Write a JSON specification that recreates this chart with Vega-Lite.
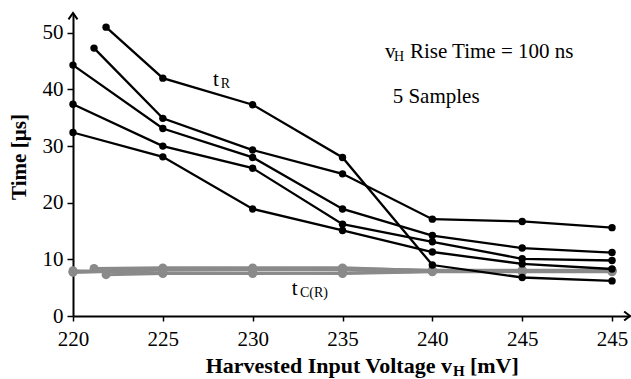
{
  "$schema": "https://vega.github.io/schema/vega-lite/v6.json",
  "width": 557,
  "height": 303,
  "autosize": {"type": "none"},
  "padding": {"left": 73, "top": 13, "right": 1, "bottom": 63},
  "background": "white",
  "config": {"view": {"stroke": null}, "font": "Liberation Serif"},
  "datasets": {
    "tR": [
      {"sample": "A", "x": 221.84, "y": 51.0},
      {"sample": "A", "x": 225, "y": 42.0},
      {"sample": "A", "x": 230, "y": 37.3},
      {"sample": "A", "x": 235, "y": 28.0},
      {"sample": "A", "x": 240, "y": 9.0},
      {"sample": "A", "x": 245, "y": 6.8},
      {"sample": "A", "x": 250, "y": 6.2},
      {"sample": "B", "x": 221.17, "y": 47.3},
      {"sample": "B", "x": 225, "y": 34.9},
      {"sample": "B", "x": 230, "y": 29.3},
      {"sample": "B", "x": 235, "y": 25.1},
      {"sample": "B", "x": 240, "y": 17.1},
      {"sample": "B", "x": 245, "y": 16.7},
      {"sample": "B", "x": 250, "y": 15.6},
      {"sample": "C", "x": 220, "y": 44.3},
      {"sample": "C", "x": 225, "y": 33.1},
      {"sample": "C", "x": 230, "y": 28.0},
      {"sample": "C", "x": 235, "y": 18.9},
      {"sample": "C", "x": 240, "y": 14.2},
      {"sample": "C", "x": 245, "y": 12.0},
      {"sample": "C", "x": 250, "y": 11.2},
      {"sample": "D", "x": 220, "y": 37.4},
      {"sample": "D", "x": 225, "y": 30.0},
      {"sample": "D", "x": 230, "y": 26.1},
      {"sample": "D", "x": 235, "y": 16.2},
      {"sample": "D", "x": 240, "y": 13.1},
      {"sample": "D", "x": 245, "y": 10.1},
      {"sample": "D", "x": 250, "y": 9.8},
      {"sample": "E", "x": 220, "y": 32.4},
      {"sample": "E", "x": 225, "y": 28.1},
      {"sample": "E", "x": 230, "y": 18.9},
      {"sample": "E", "x": 235, "y": 15.1},
      {"sample": "E", "x": 240, "y": 11.3},
      {"sample": "E", "x": 245, "y": 9.2},
      {"sample": "E", "x": 250, "y": 8.3}
    ],
    "tC": [
      {"sample": "A", "x": 221.84, "y": 7.3},
      {"sample": "A", "x": 225, "y": 7.5},
      {"sample": "A", "x": 230, "y": 7.5},
      {"sample": "A", "x": 235, "y": 7.6},
      {"sample": "A", "x": 240, "y": 7.9},
      {"sample": "A", "x": 245, "y": 7.9},
      {"sample": "A", "x": 250, "y": 7.9},
      {"sample": "B", "x": 221.17, "y": 8.4},
      {"sample": "B", "x": 225, "y": 8.5},
      {"sample": "B", "x": 230, "y": 8.5},
      {"sample": "B", "x": 235, "y": 8.5},
      {"sample": "B", "x": 240, "y": 8.0},
      {"sample": "B", "x": 245, "y": 8.0},
      {"sample": "B", "x": 250, "y": 8.0},
      {"sample": "C", "x": 220, "y": 7.8},
      {"sample": "C", "x": 225, "y": 8.3},
      {"sample": "C", "x": 230, "y": 8.4},
      {"sample": "C", "x": 235, "y": 8.4},
      {"sample": "C", "x": 240, "y": 8.1},
      {"sample": "C", "x": 245, "y": 8.1},
      {"sample": "C", "x": 250, "y": 8.1},
      {"sample": "D", "x": 220, "y": 8.0},
      {"sample": "D", "x": 225, "y": 7.6},
      {"sample": "D", "x": 230, "y": 7.6},
      {"sample": "D", "x": 235, "y": 7.5},
      {"sample": "D", "x": 240, "y": 7.8},
      {"sample": "D", "x": 245, "y": 7.8},
      {"sample": "D", "x": 250, "y": 7.8},
      {"sample": "E", "x": 220, "y": 7.7},
      {"sample": "E", "x": 225, "y": 8.1},
      {"sample": "E", "x": 230, "y": 8.2},
      {"sample": "E", "x": 235, "y": 8.2},
      {"sample": "E", "x": 240, "y": 8.0},
      {"sample": "E", "x": 245, "y": 8.0},
      {"sample": "E", "x": 250, "y": 8.0}
    ],
    "notes": [
      {"text": "t", "x": 227.79, "y": 40.6},
      {"text": "t", "x": 232.17, "y": 3.71},
      {"text": "v", "x": 237.36, "y": 45.5},
      {"text": "Rise Time = 100 ns", "x": 238.75, "y": 45.5},
      {"text": "5 Samples", "x": 237.79, "y": 37.55}
    ],
    "subs": [
      {"text": "R", "x": 228.22, "y": 40.2},
      {"text": "C(R)", "x": 232.63, "y": 3.35},
      {"text": "H", "x": 237.86, "y": 45.0}
    ],
    "xtitle": [{"text": "Harvested Input Voltage v", "x": 241.09, "y": -10.0}],
    "xtitlesub": [{"text": "H", "x": 241.15, "y": -10.6}],
    "xtitletail": [{"text": "[mV]", "x": 242.09, "y": -10.0}],
    "xarrow": [{"x": 251, "y": 0}],
    "yarrow": [{"x": 220, "y": 53.5}]
  },
  "encoding": {
    "x": {
      "field": "x",
      "type": "quantitative",
      "scale": {"domain": [220, 251], "nice": false, "zero": false},
      "axis": {
        "values": [220, 225, 230, 235, 240, 245, 250],
        "labelExpr": "datum.value == 250 ? '245' : datum.label",
        "title": null,
        "grid": false,
        "domainColor": "black",
        "domainWidth": 2,
        "tickColor": "black",
        "tickWidth": 1.5,
        "tickSize": 5,
        "labelFont": "Liberation Serif",
        "labelFontSize": 21,
        "labelColor": "black",
        "labelPadding": 7,
        "labelFlush": false,
        "labelOverlap": false
      }
    },
    "y": {
      "field": "y",
      "type": "quantitative",
      "scale": {"domain": [0, 53.5], "nice": false},
      "axis": {
        "values": [0, 10, 20, 30, 40, 50],
        "title": "Time [µs]",
        "titleFont": "Liberation Serif",
        "titleFontSize": 21,
        "titleFontWeight": "bold",
        "titleColor": "black",
        "titlePadding": 13,
        "titleY": 143.5,
        "grid": false,
        "domainColor": "black",
        "domainWidth": 2,
        "tickColor": "black",
        "tickWidth": 1.5,
        "tickSize": 6,
        "labelFont": "Liberation Serif",
        "labelFontSize": 21,
        "labelColor": "black",
        "labelPadding": 4,
        "labelOverlap": false
      }
    }
  },
  "layer": [
    {
      "data": {"name": "tC"},
      "mark": {"type": "line", "color": "#8a8a8a", "strokeWidth": 3},
      "encoding": {"detail": {"field": "sample", "type": "nominal"}}
    },
    {
      "data": {"name": "tC"},
      "mark": {"type": "point", "filled": true, "color": "#8a8a8a", "size": 80, "opacity": 1},
      "encoding": {"detail": {"field": "sample", "type": "nominal"}}
    },
    {
      "data": {"name": "tR"},
      "mark": {"type": "line", "color": "black", "strokeWidth": 2.3},
      "encoding": {"detail": {"field": "sample", "type": "nominal"}}
    },
    {
      "data": {"name": "tR"},
      "mark": {"type": "point", "filled": true, "color": "black", "size": 55, "opacity": 1},
      "encoding": {"detail": {"field": "sample", "type": "nominal"}}
    },
    {
      "data": {"name": "xarrow"},
      "mark": {"type": "point", "shape": "M-1.3,-1L0,0L-1.3,1", "filled": false, "stroke": "black", "strokeWidth": 2, "size": 81, "opacity": 1},
      "encoding": {}
    },
    {
      "data": {"name": "yarrow"},
      "mark": {"type": "point", "shape": "M-1,1.4L0,0L1,1.4", "filled": false, "stroke": "black", "strokeWidth": 2, "size": 81, "opacity": 1},
      "encoding": {}
    },
    {
      "data": {"name": "notes"},
      "mark": {"type": "text", "align": "left", "baseline": "alphabetic", "font": "Liberation Serif", "fontSize": 21, "color": "black"},
      "encoding": {"text": {"field": "text"}}
    },
    {
      "data": {"name": "subs"},
      "mark": {"type": "text", "align": "left", "baseline": "alphabetic", "font": "Liberation Serif", "fontSize": 14, "color": "black"},
      "encoding": {"text": {"field": "text"}}
    },
    {
      "data": {"name": "xtitle"},
      "mark": {"type": "text", "align": "right", "baseline": "alphabetic", "font": "Liberation Serif", "fontSize": 22, "fontWeight": "bold", "color": "black"},
      "encoding": {"text": {"field": "text"}}
    },
    {
      "data": {"name": "xtitlesub"},
      "mark": {"type": "text", "align": "left", "baseline": "alphabetic", "font": "Liberation Serif", "fontSize": 15, "fontWeight": "bold", "color": "black"},
      "encoding": {"text": {"field": "text"}}
    },
    {
      "data": {"name": "xtitletail"},
      "mark": {"type": "text", "align": "left", "baseline": "alphabetic", "font": "Liberation Serif", "fontSize": 22, "fontWeight": "bold", "color": "black"},
      "encoding": {"text": {"field": "text"}}
    }
  ]
}
